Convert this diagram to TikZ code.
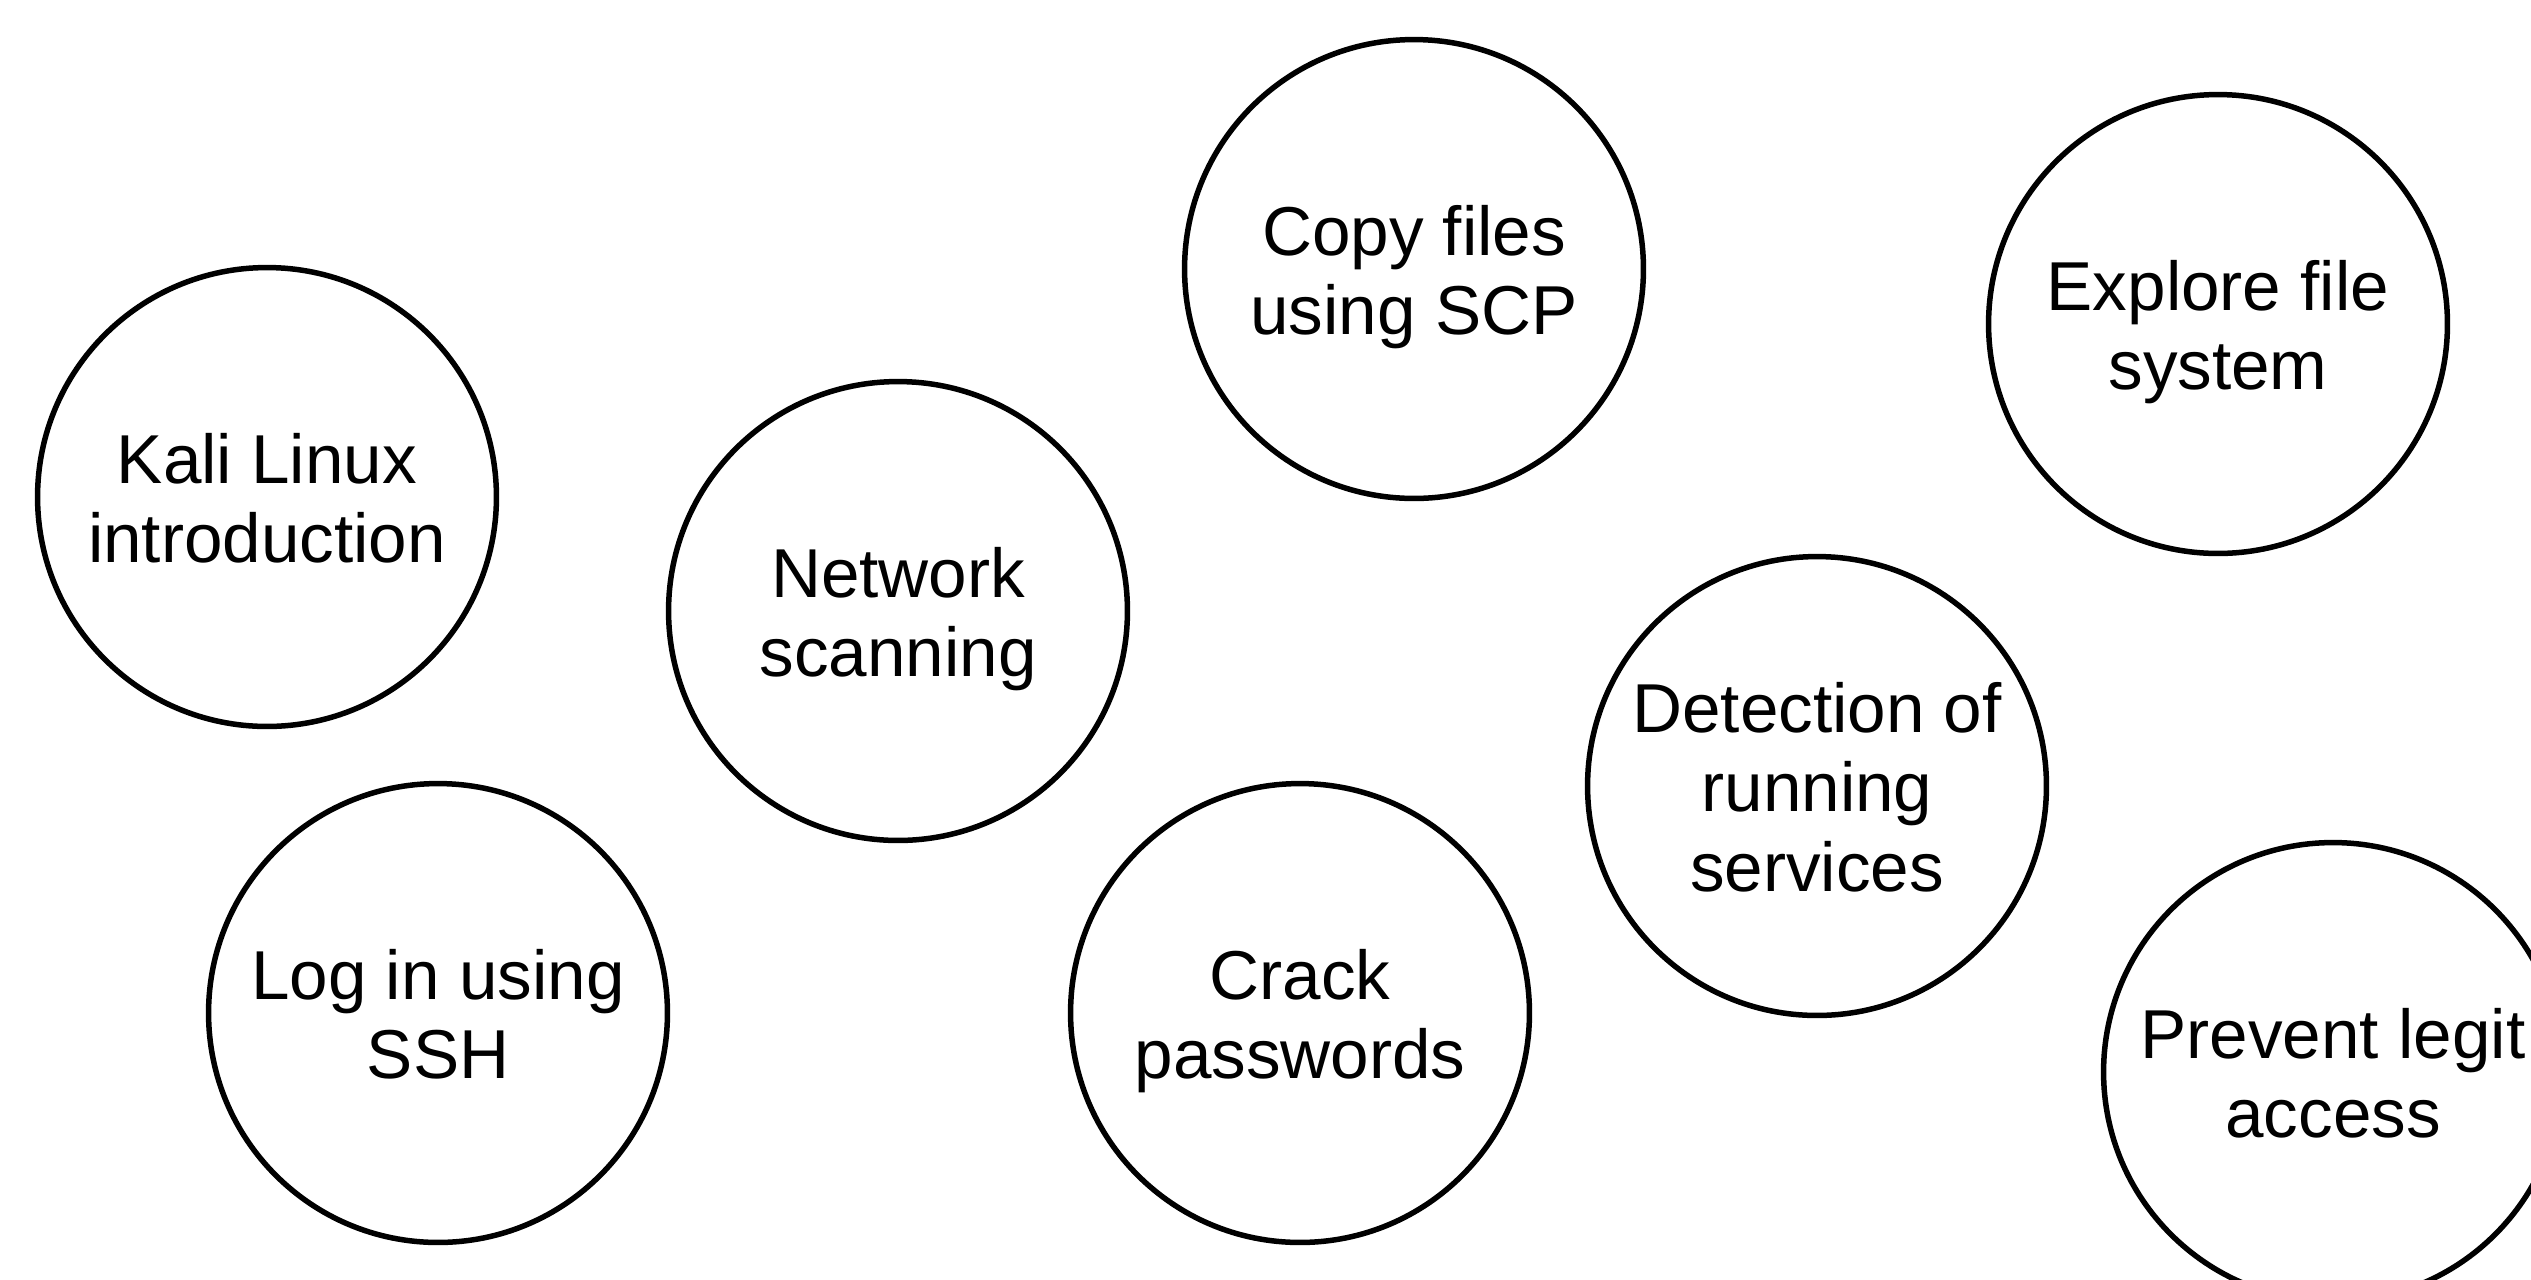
\documentclass[tikz,border=0pt]{standalone}
\usepackage{fontspec}
\setmainfont{Liberation Sans}
\begin{document}
\begin{tikzpicture}[x=0.02cm, y=-0.02cm,
  bubble/.style={circle, draw=black, line width=0.11cm, minimum size=9.18cm, inner sep=0pt},
  bubbletext/.style={anchor=north, inner sep=0pt, align=center,
    font=\fontsize{39.4pt}{45.5pt}\selectfont}]
  % page frame
  \useasboundingbox (0,0) rectangle (2531,1279);
  \clip (0,0) rectangle (2531,1279);
  \fill[white] (0,0) rectangle (2531,1279);

  % topic circles
  \node[bubble] (kali)    at (267,497)   {};
  \node[bubble] (net)     at (898,611)   {};
  \node[bubble] (scp)     at (1414,269)  {};
  \node[bubble] (explore) at (2218,324)  {};
  \node[bubble] (detect)  at (1817,786)  {};
  \node[bubble] (ssh)     at (438,1013)  {};
  \node[bubble] (crack)   at (1300,1013) {};
  \node[bubble] (prevent) at (2333,1072) {};

  % labels, cap height of the first line to baseline of the last centred in each circle
  \node[bubbletext] (kali-t)    at ([yshift=1.29cm]kali.center)    {Kali Linux\\introduction};
  \node[bubbletext] (net-t)     at ([yshift=1.29cm]net.center)     {Network\\scanning};
  \node[bubbletext] (scp-t)     at ([yshift=1.29cm]scp.center)     {Copy files\\using SCP};
  \node[bubbletext] (explore-t) at ([yshift=1.29cm]explore.center) {Explore file\\system};
  \node[bubbletext] (detect-t)  at ([yshift=2.09cm]detect.center)  {Detection of\\running\\services};
  \node[bubbletext] (ssh-t)     at ([yshift=1.29cm]ssh.center)     {Log in using\\SSH};
  \node[bubbletext] (crack-t)   at ([yshift=1.29cm]crack.center)   {Crack\\passwords};
  \node[bubbletext] (prevent-t) at ([yshift=1.29cm]prevent.center) {Prevent legit\\access};
\end{tikzpicture}
\end{document}
